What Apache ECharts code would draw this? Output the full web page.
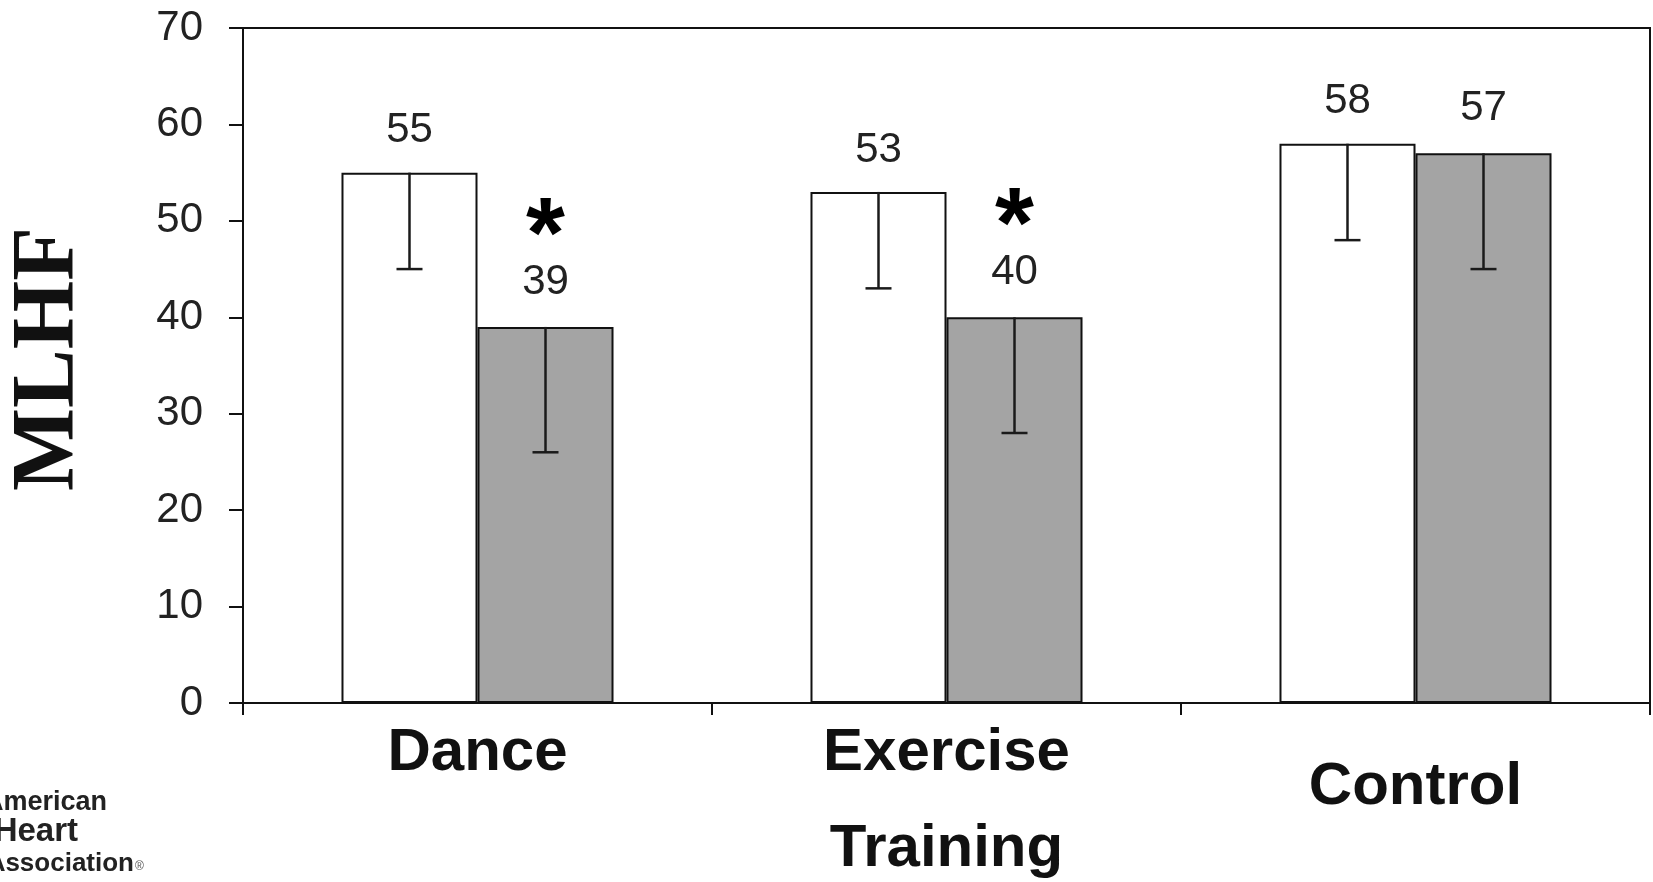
<!DOCTYPE html>
<html>
<head>
<meta charset="utf-8">
<title>MLHF by group</title>
<script src="https://cdn.jsdelivr.net/npm/echarts@6/dist/echarts.min.js"></script>
<style>
  html, body { margin: 0; padding: 0; background: #fff; }
  #chart { width: 1653px; height: 882px; }
</style>
</head>
<body>
<div id="chart"></div>
<script>
// Group labels along the x axis
const categories = ['Dance', 'Exercise\nTraining', 'Control'];
// Baseline (white) and follow-up (grey) MLHF scores
const preValues = [55, 53, 58];
const postValues = [39, 40, 57];
// Error bar lengths (drawn downward from each bar top)
const preSD = [10, 10, 10];
const postSD = [13, 12, 12];
// Follow-up values marked as significant
const postSignificant = [true, true, false];
// Y axis range
const yMin = 0, yMax = 70, yStep = 10;

const BAR_FRACTION = 0.29;   // width of each bar relative to its category band
const CAP_WIDTH = 26;
const numFont = "'Liberation Sans Narrow', 'Liberation Sans', Arial, sans-serif";
const sansFont = "'Liberation Sans', Arial, sans-serif";
const ink = '#111';

function errorBar(sign) {
  return function (params, api) {
    const i = api.value(0);
    const top = api.coord([i, api.value(1)]);
    const low = api.coord([i, api.value(2)]);
    const band = api.size([1, 0])[0];
    const x = top[0] + sign * band * BAR_FRACTION / 2;
    const style = { stroke: '#1a1a1a', lineWidth: 2.5 };
    return {
      type: 'group',
      children: [
        { type: 'line', shape: { x1: x, y1: top[1], x2: x, y2: low[1] }, style: style },
        { type: 'line', shape: { x1: x - CAP_WIDTH / 2, y1: low[1], x2: x + CAP_WIDTH / 2, y2: low[1] }, style: style }
      ]
    };
  };
}

function categoryLabel(value) {
  const key = value === 'Control' ? 'c' : 'a';
  return value.split('\n').map(function (s) { return '{' + key + '|' + s + '}'; }).join('\n');
}

const chart = echarts.init(document.getElementById('chart'), null, { renderer: 'canvas' });

chart.setOption({
  animation: false,
  backgroundColor: '#ffffff',
  grid: {
    left: 243, top: 28, right: 3, bottom: 179,
    show: true, borderColor: ink, borderWidth: 2, backgroundColor: 'transparent'
  },
  xAxis: {
    type: 'category',
    data: categories,
    axisLine: { lineStyle: { color: ink, width: 2 } },
    axisTick: { show: true, length: 12, lineStyle: { color: ink, width: 2 } },
    axisLabel: {
      interval: 0,
      margin: 2,
      formatter: categoryLabel,
      rich: {
        a: { fontSize: 60, fontWeight: 'bold', fontFamily: sansFont, color: ink, lineHeight: 96 },
        c: { fontSize: 60, fontWeight: 'bold', fontFamily: sansFont, color: ink, lineHeight: 165 }
      }
    }
  },
  yAxis: {
    type: 'value',
    min: yMin, max: yMax, interval: yStep,
    splitLine: { show: false },
    axisLine: { show: true, lineStyle: { color: ink, width: 2 } },
    axisTick: { show: true, length: 14, lineStyle: { color: ink, width: 2 } },
    axisLabel: { margin: 40, fontSize: 42, fontFamily: numFont, color: '#222' }
  },
  series: [
    {
      name: 'Baseline',
      type: 'bar',
      data: preValues,
      barWidth: (BAR_FRACTION * 100) + '%',
      barGap: '0%',
      itemStyle: { color: '#ffffff', borderColor: ink, borderWidth: 2 },
      label: {
        show: true, position: 'top', distance: 21,
        fontSize: 42, lineHeight: 42, fontFamily: numFont, color: '#222'
      }
    },
    {
      name: 'Follow-up',
      type: 'bar',
      data: postValues,
      barWidth: (BAR_FRACTION * 100) + '%',
      barGap: '0%',
      itemStyle: { color: '#a4a4a4', borderColor: ink, borderWidth: 2 },
      label: {
        show: true, position: 'top', distance: 24,
        formatter: function (p) {
          const v = '{v|' + p.value + '}';
          return postSignificant[p.dataIndex] ? '{s|*}\n' + v : v;
        },
        rich: {
          v: { fontSize: 42, lineHeight: 42, fontFamily: numFont, color: '#222' },
          s: { fontSize: 100, lineHeight: 44, fontWeight: 'bold', fontFamily: sansFont, color: '#000' }
        }
      }
    },
    {
      type: 'custom',
      renderItem: errorBar(-1),
      encode: { x: 0, y: 1 },
      data: preValues.map(function (v, i) { return [i, v, v - preSD[i]]; }),
      z: 10
    },
    {
      type: 'custom',
      renderItem: errorBar(1),
      encode: { x: 0, y: 1 },
      data: postValues.map(function (v, i) { return [i, v, v - postSD[i]]; }),
      z: 10
    }
  ],
  graphic: [
    {
      type: 'text', x: 49.5, y: 359, rotation: Math.PI / 2,
      style: {
        text: 'MLHF', fontSize: 88, fontWeight: 'bold',
        fontFamily: "'Liberation Serif', 'Times New Roman', serif",
        fill: ink, align: 'center', verticalAlign: 'middle'
      }
    },
    {
      type: 'text', x: 107, y: 803,
      style: { text: 'American', fontSize: 27, fontWeight: 'bold', fontFamily: sansFont, fill: '#222', align: 'right', verticalAlign: 'middle' }
    },
    {
      type: 'text', x: 78, y: 832,
      style: { text: 'Heart', fontSize: 33, fontWeight: 'bold', fontFamily: sansFont, fill: '#222', align: 'right', verticalAlign: 'middle' }
    },
    {
      type: 'text', x: 134, y: 864,
      style: { text: 'Association', fontSize: 26, fontWeight: 'bold', fontFamily: sansFont, fill: '#222', align: 'right', verticalAlign: 'middle' }
    },
    {
      type: 'text', x: 135, y: 867,
      style: { text: '®', fontSize: 12, fontFamily: sansFont, fill: '#555', align: 'left', verticalAlign: 'middle' }
    }
  ]
});
</script>
</body>
</html>
